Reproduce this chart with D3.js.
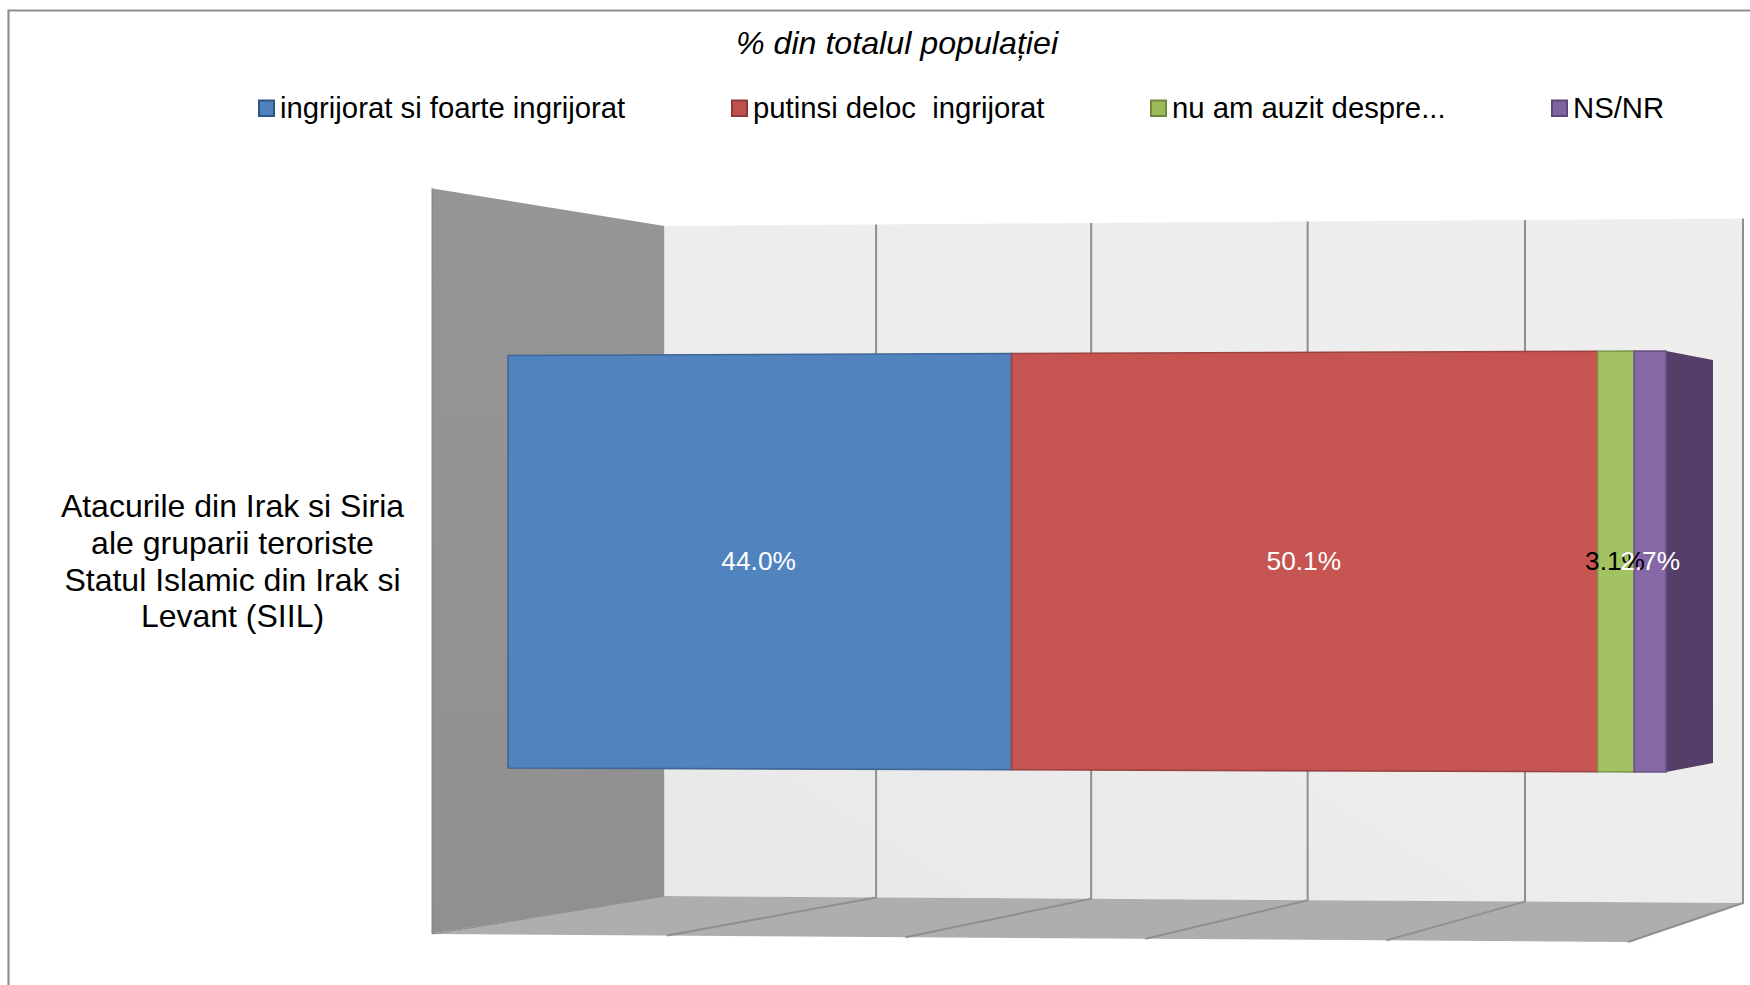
<!DOCTYPE html>
<html><head><meta charset="utf-8">
<script src="https://cdn.jsdelivr.net/npm/d3@7"></script>
<style>html,body{margin:0;padding:0;background:#fff}svg{display:block}text{font-family:"Liberation Sans",Arial,sans-serif}</style>
</head><body><svg id="c" width="1750" height="985"></svg>
<script>
const chartTitle = "% din totalul populației";
const seriesNames = ["ingrijorat si foarte ingrijorat","putinsi deloc  ingrijorat","nu am auzit despre...","NS/NR"];
const seriesValues = [44.0,50.1,3.1,2.7];
const valueLabels = ["44.0%","50.1%","3.1%","2.7%"];
const labelColors = ["#fff","#fff","#000","#fff"];
const fills = ["#5183bf","#c65552","#a3c261","#8768a6"];
const strokes = ["#3f6796","#9c4341","#7f9a4c","#6a5183"];
const swatchFills = ["#4f81bd","#c0504d","#9bbb59","#8064a2"];
const swatchStrokes = ["#2f5587","#8e3a38","#71893f","#5c4776"];
const categoryLines = ["Atacurile din Irak si Siria","ale gruparii teroriste","Statul Islamic din Irak si","Levant (SIIL)"];
const gridTicks = [0,20,40,60,80,100];

const svg = d3.select("#c");
const defs = svg.append("defs");
const wallGrad = defs.append("linearGradient").attr("id","wall").attr("x1",0).attr("y1",0).attr("x2",0).attr("y2",1);
wallGrad.append("stop").attr("offset",0).attr("stop-color","#969696");
wallGrad.append("stop").attr("offset",1).attr("stop-color","#909090");
const backGrad = defs.append("linearGradient").attr("id","back").attr("x1",0).attr("y1",1).attr("x2",1).attr("y2",0);
backGrad.append("stop").attr("offset",0).attr("stop-color","#e8e8e8");
backGrad.append("stop").attr("offset",0.5).attr("stop-color","#ededed");
backGrad.append("stop").attr("offset",1).attr("stop-color","#eeeeee");

// perspective-ish scales for the 3D box
const xBack  = d3.scalePow().exponent(1.012).domain([0,100]).range([664.5,1743]);
const xFront = d3.scalePow().exponent(1.012).domain([0,100]).range([432.5,1628]);
const yBackTop = d3.scaleLinear().domain([0,100]).range([226,218.5]);
const yBackBot = d3.scaleLinear().domain([0,100]).range([896,903]);
const yFrontBot = d3.scaleLinear().domain([0,100]).range([934,942]);
const xBar = d3.scalePow().exponent(1.0154).domain([0,99.9]).range([508,1666]);
const yBarTop = d3.scaleLinear().domain([0,99.9]).range([355.5,351]);
const yBarBot = d3.scaleLinear().domain([0,99.9]).range([768,772]);
const line = d3.line();

// frame
svg.append("path").attr("d",line([[8.5,985],[8.5,10.5],[1750,10.5]])).attr("fill","none").attr("stroke","#8e8e8e").attr("stroke-width",2.2);

// left wall, back wall, floor
svg.append("path").attr("d",line([[432.5,188.5],[xBack(0),yBackTop(0)],[xBack(0),yBackBot(0)],[432.5,933.5]])+"Z").attr("fill","url(#wall)");
svg.append("path").attr("d",line([[xBack(0),yBackTop(0)],[xBack(100),yBackTop(100)],[xBack(100),yBackBot(100)],[xBack(0),yBackBot(0)]])+"Z").attr("fill","url(#back)");
svg.append("path").attr("d",line([[xFront(0),yFrontBot(0)],[xBack(0),yBackBot(0)],[xBack(100),yBackBot(100)],[xFront(100),yFrontBot(100)]])+"Z").attr("fill","#aeaeae");

// gridlines
svg.append("line").attr("x1",432.5).attr("x2",432.5).attr("y1",188.5).attr("y2",934).attr("stroke","#8c8c8c").attr("stroke-width",2);
const grid = svg.append("g").attr("fill","none").attr("stroke","#8f8f8f").attr("stroke-width",2);
gridTicks.filter(t=>t>0).forEach(t=>{
  grid.append("path").attr("d",line([[xBack(t),yBackTop(t)],[xBack(t),yBackBot(t)],[xFront(t),yFrontBot(t)]]));
});
svg.append("line").attr("x1",xFront(0)).attr("y1",yFrontBot(0)).attr("x2",xBack(0)).attr("y2",yBackBot(0)).attr("stroke","#8c8c8c").attr("stroke-width",1.2);

// stacked bar
const cum = d3.cumsum(seriesValues);
const starts = cum.map((c,i)=>c-seriesValues[i]);
const total = cum[cum.length-1];
const barDepth = 47, depthDrop = 9;
svg.append("path")
  .attr("d",line([[xBar(total),yBarTop(total)],[xBar(total)+barDepth,yBarTop(total)+depthDrop],[xBar(total)+barDepth,yBarBot(total)-depthDrop],[xBar(total),yBarBot(total)]])+"Z")
  .attr("fill","#543f69");
svg.append("g").selectAll("path").data(seriesValues).join("path")
  .attr("d",(d,i)=>{const a=starts[i],b=cum[i];return line([[xBar(a),yBarTop(a)],[xBar(b),yBarTop(b)],[xBar(b),yBarBot(b)],[xBar(a),yBarBot(a)]])+"Z";})
  .attr("fill",(d,i)=>fills[i]).attr("stroke",(d,i)=>strokes[i]).attr("stroke-width",1.6);

// data labels
svg.append("g").selectAll("text").data(valueLabels).join("text")
  .attr("x",(d,i)=>xBar(starts[i]+seriesValues[i]/2)+ (i==0?1.5:(i==2?-1:0)))
  .attr("y",570).attr("text-anchor","middle").attr("font-size",26.3)
  .attr("fill",(d,i)=>labelColors[i]).text(d=>d);

// category label
svg.append("g").selectAll("text").data(categoryLines).join("text")
  .attr("x",232.5).attr("y",(d,i)=>517+i*36.8).attr("text-anchor","middle").attr("font-size",32).attr("fill","#000").text(d=>d);

// title
svg.append("text").attr("x",897).attr("y",53.5).attr("text-anchor","middle").attr("font-size",32.2).attr("font-style","italic").attr("fill","#000").text(chartTitle);

// legend
const legendX = [258,731,1150,1551];
const leg = svg.append("g").selectAll("g").data(seriesNames).join("g").attr("transform",(d,i)=>`translate(${legendX[i]},0)`);
leg.append("rect").attr("x",1).attr("y",100.5).attr("width",15).attr("height",15.5).attr("fill",(d,i)=>swatchFills[i]).attr("stroke",(d,i)=>swatchStrokes[i]).attr("stroke-width",2);
leg.append("text").attr("x",22).attr("y",118).attr("font-size",29.3).attr("fill","#000").attr("xml:space","preserve").style("white-space","pre").text(d=>d);
</script></body></html>
